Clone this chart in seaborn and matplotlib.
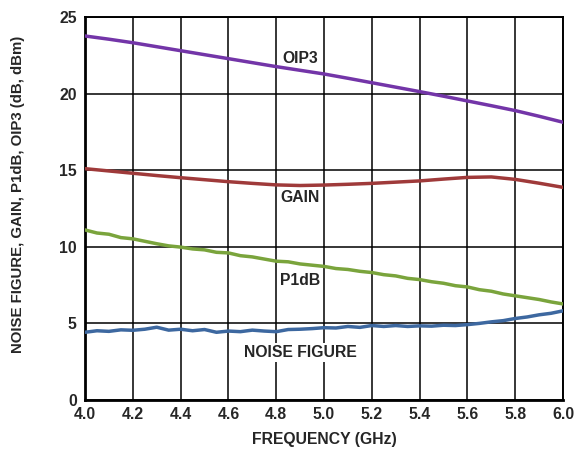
import numpy as np
import pandas as pd
import matplotlib
matplotlib.use("Agg")
import matplotlib.pyplot as plt
import seaborn as sns

# Frequency grids (GHz)
freq_coarse = [4.0, 4.1, 4.2, 4.3, 4.4, 4.5, 4.6, 4.7, 4.8, 4.9, 5.0,
               5.1, 5.2, 5.3, 5.4, 5.5, 5.6, 5.7, 5.8, 5.9, 6.0]
freq_fine = [4.00, 4.05, 4.10, 4.15, 4.20, 4.25, 4.30, 4.35, 4.40, 4.45,
             4.50, 4.55, 4.60, 4.65, 4.70, 4.75, 4.80, 4.85, 4.90, 4.95,
             5.00, 5.05, 5.10, 5.15, 5.20, 5.25, 5.30, 5.35, 5.40, 5.45,
             5.50, 5.55, 5.60, 5.65, 5.70, 5.75, 5.80, 5.85, 5.90, 5.95,
             6.00]

# Measured curves
oip3 = [23.76, 23.55, 23.32, 23.06, 22.80, 22.54, 22.28, 22.02, 21.76, 21.52,
        21.28, 21.00, 20.71, 20.42, 20.13, 19.83, 19.52, 19.21, 18.89, 18.52,
        18.13]
gain = [15.10, 14.95, 14.80, 14.65, 14.51, 14.38, 14.25, 14.14, 14.04, 14.00,
        14.03, 14.08, 14.14, 14.22, 14.30, 14.42, 14.53, 14.56, 14.40, 14.15,
        13.88]
p1db = [11.10, 10.90, 10.82, 10.60, 10.52, 10.36, 10.20, 10.06, 9.98, 9.86,
        9.80, 9.64, 9.60, 9.42, 9.34, 9.20, 9.06, 9.02, 8.88, 8.80,
        8.72, 8.58, 8.52, 8.40, 8.32, 8.18, 8.10, 7.94, 7.86, 7.72,
        7.62, 7.46, 7.38, 7.20, 7.10, 6.92, 6.80, 6.68, 6.56, 6.40,
        6.27]
noise_figure = [4.42, 4.52, 4.48, 4.58, 4.55, 4.62, 4.75, 4.56, 4.62, 4.52,
                4.60, 4.42, 4.50, 4.46, 4.56, 4.50, 4.46, 4.60, 4.62, 4.66,
                4.72, 4.70, 4.80, 4.74, 4.86, 4.80, 4.86, 4.80, 4.84, 4.82,
                4.88, 4.86, 4.92, 5.00, 5.10, 5.18, 5.32, 5.42, 5.56, 5.66,
                5.82]

x_ticks = [4.0, 4.2, 4.4, 4.6, 4.8, 5.0, 5.2, 5.4, 5.6, 5.8, 6.0]
y_ticks = [0, 5, 10, 15, 20, 25]

sns.set_style("white")
plt.rcParams["font.family"] = ["Liberation Sans", "DejaVu Sans"]
plt.rcParams["font.weight"] = "bold"

FS = 11.3

fig = plt.figure(figsize=(5.8, 4.53), dpi=100)
ax = fig.add_axes([0.1466, 0.117, 0.8241, 0.8455])

series = [
    ("OIP3", freq_coarse, oip3, "#7335A8"),
    ("GAIN", freq_coarse, gain, "#9F3A3A"),
    ("P1dB", freq_fine, p1db, "#7AA43C"),
    ("NOISE FIGURE", freq_fine, noise_figure, "#3D68A0"),
]
for name, xs, ys, color in series:
    df = pd.DataFrame({"freq": xs, "val": ys})
    sns.lineplot(data=df, x="freq", y="val", ax=ax, color=color,
                 linewidth=2.5, zorder=3)

ax.set_xlim(4.0, 6.0)
ax.set_ylim(0, 25)
ax.set_xticks(x_ticks)
ax.set_yticks(y_ticks)
ax.set_xticklabels([f"{v:.1f}" for v in x_ticks])
ax.set_yticklabels([str(v) for v in y_ticks])
ax.tick_params(axis="x", length=0, labelsize=FS, pad=5)
ax.tick_params(axis="y", length=0, labelsize=FS, pad=6)
for lbl in ax.get_xticklabels() + ax.get_yticklabels():
    lbl.set_fontweight("bold")

ax.grid(True, color="black", linewidth=1.1, zorder=1)
ax.set_axisbelow(True)
for side in ["top", "right"]:
    ax.spines[side].set_color("black")
    ax.spines[side].set_linewidth(1.4)
for side in ["left", "bottom"]:
    ax.spines[side].set_color("black")
    ax.spines[side].set_linewidth(2.0)

ax.set_xlabel("FREQUENCY (GHz)", fontsize=FS, fontweight="bold", labelpad=7)
ax.set_ylabel("NOISE FIGURE, GAIN, P1dB, OIP3 (dB, dBm)", fontsize=10.8,
              fontweight="bold")
ax.yaxis.set_label_coords(-0.126, 0.537)

# Curve labels on white boxes that mask the grid (drawn beneath the curves)
labels = [("OIP3", 4.9, 22.26), ("GAIN", 4.9, 13.19),
          ("P1dB", 4.9, 7.83), ("NOISE FIGURE", 4.9, 3.13)]
for text, lx, ly in labels:
    ax.text(lx, ly, text, ha="center", va="center", fontsize=FS,
            fontweight="bold", zorder=2.5,
            bbox=dict(facecolor="white", edgecolor="none", pad=1.5))

fig.savefig("out.png", dpi=100)
